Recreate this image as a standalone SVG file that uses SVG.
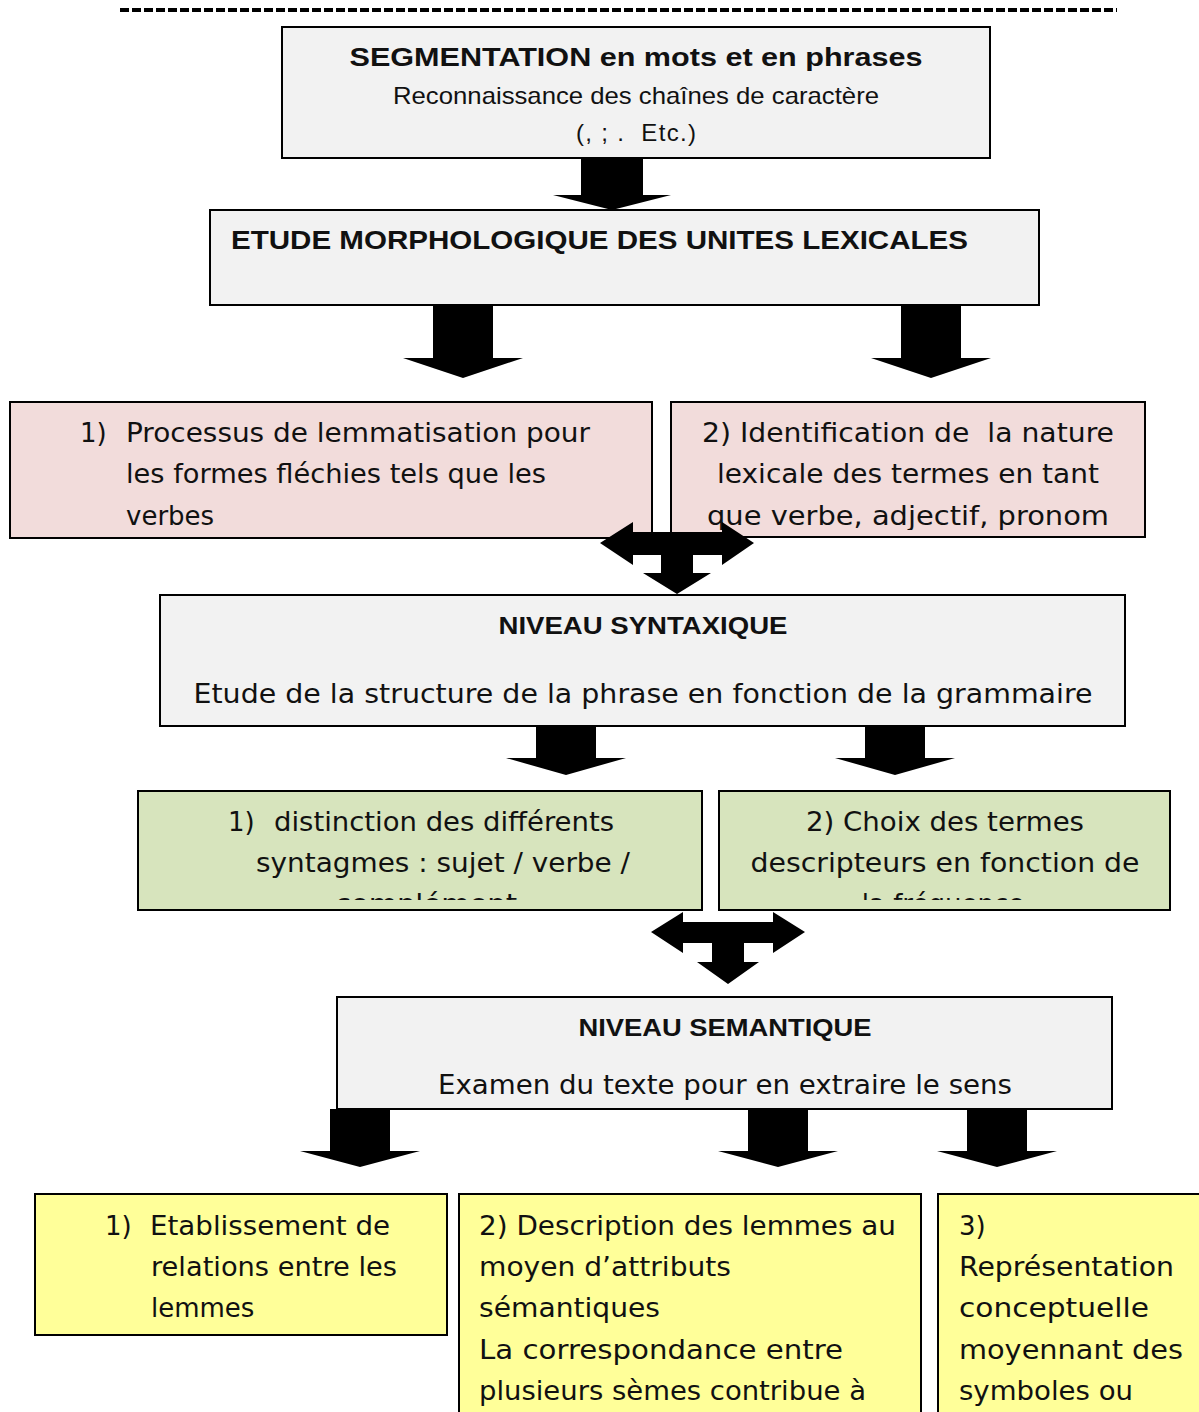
<svg xmlns="http://www.w3.org/2000/svg" width="1199" height="1412" viewBox="0 0 1199 1412">
<style>
.box{stroke:#000;stroke-width:2}
.grey{fill:#f2f2f2}
.pink{fill:#f2dcdb}
.green{fill:#d7e4bd}
.yellow{fill:#ffff99}
.arrow{fill:#000}
.t{font-family:"DejaVu Sans",sans-serif;font-size:26px;fill:#111}
.b{font-family:"Liberation Sans",Arial,sans-serif;font-weight:bold;fill:#111}
.r{font-family:"Liberation Sans",Arial,sans-serif;fill:#111}
.c{text-anchor:middle}
</style>
<defs>
<clipPath id="cp4"><rect x="672" y="403" width="472" height="127"/></clipPath>
<clipPath id="cp6"><rect x="139" y="792" width="562" height="108"/></clipPath>
<clipPath id="cp7"><rect x="720" y="792" width="449" height="108"/></clipPath>
</defs>
<line x1="120" y1="10" x2="1117" y2="10" stroke="#000" stroke-width="4" stroke-dasharray="9,3"/>

<g id="segmentation">
<rect class="box grey" x="282" y="27" width="708" height="131"/>
<text class="b c" x="636" y="66" font-size="26" textLength="573" lengthAdjust="spacingAndGlyphs">SEGMENTATION en mots et en phrases</text>
<text class="r c" x="636" y="104" font-size="24" textLength="486" lengthAdjust="spacingAndGlyphs">Reconnaissance des chaînes de caractère</text>
<text class="r c" x="636" y="141" font-size="24" xml:space="preserve" textLength="120" lengthAdjust="spacing">(, ; .  Etc.)</text>
</g>

<g id="morphologie">
<rect class="box grey" x="210" y="210" width="829" height="95"/>
<text class="b" x="231" y="249" font-size="26" textLength="737" lengthAdjust="spacingAndGlyphs">ETUDE MORPHOLOGIQUE DES UNITES LEXICALES</text>
</g>

<g id="lemmatisation">
<rect class="box pink" x="10" y="402" width="642" height="136"/>
<text class="t" x="80" y="442">1)</text>
<text class="t" x="126" y="442" textLength="464" lengthAdjust="spacingAndGlyphs">Processus de lemmatisation pour</text>
<text class="t" x="126" y="483" textLength="420" lengthAdjust="spacingAndGlyphs">les formes fléchies tels que les</text>
<text class="t" x="126" y="525">verbes</text>
</g>

<g id="identification">
<rect class="box pink" x="671" y="402" width="474" height="135"/>
<g clip-path="url(#cp4)">
<text class="t c" x="908" y="442" textLength="412" lengthAdjust="spacingAndGlyphs" xml:space="preserve">2) Identification de  la nature</text>
<text class="t c" x="908" y="483" textLength="382" lengthAdjust="spacingAndGlyphs">lexicale des termes en tant</text>
<text class="t c" x="908" y="525" textLength="402" lengthAdjust="spacingAndGlyphs">que verbe, adjectif, pronom</text>
</g>
</g>

<g id="syntaxique">
<rect class="box grey" x="160" y="595" width="965" height="131"/>
<text class="b c" x="643" y="634" font-size="24" textLength="289" lengthAdjust="spacingAndGlyphs">NIVEAU SYNTAXIQUE</text>
<text class="t c" x="643" y="703" textLength="899" lengthAdjust="spacingAndGlyphs">Etude de la structure de la phrase en fonction de la grammaire</text>
</g>

<g id="syntagmes">
<rect class="box green" x="138" y="791" width="564" height="119"/>
<g clip-path="url(#cp6)">
<text class="t" x="228" y="831">1)</text>
<text class="t" x="274" y="831" textLength="340" lengthAdjust="spacingAndGlyphs">distinction des différents</text>
<text class="t" x="256" y="872" textLength="374" lengthAdjust="spacingAndGlyphs">syntagmes : sujet / verbe /</text>
<text class="t c" x="426" y="913" textLength="182" lengthAdjust="spacingAndGlyphs">complément</text>
</g>
</g>

<g id="choix">
<rect class="box green" x="719" y="791" width="451" height="119"/>
<g clip-path="url(#cp7)">
<text class="t c" x="945" y="831" textLength="278" lengthAdjust="spacingAndGlyphs">2) Choix des termes</text>
<text class="t c" x="945" y="872" textLength="389" lengthAdjust="spacingAndGlyphs">descripteurs en fonction de</text>
<text class="t c" x="943" y="913">la fréquence</text>
</g>
</g>

<g id="semantique">
<rect class="box grey" x="337" y="997" width="775" height="112"/>
<text class="b c" x="725" y="1036" font-size="24" textLength="293" lengthAdjust="spacingAndGlyphs">NIVEAU SEMANTIQUE</text>
<text class="t c" x="725" y="1094" textLength="574" lengthAdjust="spacingAndGlyphs">Examen du texte pour en extraire le sens</text>
</g>

<g id="relations">
<rect class="box yellow" x="35" y="1194" width="412" height="141"/>
<text class="t" x="105" y="1235">1)</text>
<text class="t" x="150" y="1235" textLength="240" lengthAdjust="spacingAndGlyphs">Etablissement de</text>
<text class="t" x="151" y="1276" textLength="246" lengthAdjust="spacingAndGlyphs">relations entre les</text>
<text class="t" x="151" y="1317">lemmes</text>
</g>

<g id="description">
<rect class="box yellow" x="459" y="1194" width="462" height="230"/>
<text class="t" x="479" y="1235" textLength="417" lengthAdjust="spacingAndGlyphs">2) Description des lemmes au</text>
<text class="t" x="479" y="1276" textLength="252" lengthAdjust="spacingAndGlyphs">moyen d’attributs</text>
<text class="t" x="479" y="1317" textLength="181" lengthAdjust="spacingAndGlyphs">sémantiques</text>
<text class="t" x="479" y="1359" textLength="364" lengthAdjust="spacingAndGlyphs">La correspondance entre</text>
<text class="t" x="479" y="1400" textLength="387" lengthAdjust="spacingAndGlyphs">plusieurs sèmes contribue à</text>
</g>

<g id="representation">
<rect class="box yellow" x="938" y="1194" width="280" height="230"/>
<text class="t" x="959" y="1235">3)</text>
<text class="t" x="959" y="1276" textLength="215" lengthAdjust="spacingAndGlyphs">Représentation</text>
<text class="t" x="959" y="1317" textLength="190" lengthAdjust="spacingAndGlyphs">conceptuelle</text>
<text class="t" x="959" y="1359" textLength="224" lengthAdjust="spacingAndGlyphs">moyennant des</text>
<text class="t" x="959" y="1400" textLength="174" lengthAdjust="spacingAndGlyphs">symboles ou</text>
</g>

<g id="connectors">
<polygon class="arrow" points="581,158 643,158 643,195 671,195 612,210 553,195 581,195"/>
<polygon class="arrow" points="433,306 493,306 493,358 523,358 463,378 403,358 433,358"/>
<polygon class="arrow" points="901,306 961,306 961,358 991,358 931,378 871,358 901,358"/>
<polygon class="arrow" points="600,543 633,522 633,532 722,532 722,522 754,543 722,565 722,555 693,555 693,573 711,573 677,594 643,573 661,573 661,555 633,555 633,565"/>
<polygon class="arrow" points="536,726 596,726 596,758 626,758 566,775 506,758 536,758"/>
<polygon class="arrow" points="865,726 925,726 925,758 955,758 895,775 835,758 865,758"/>
<polygon class="arrow" points="651,932 683,912 683,922 773,922 773,912 805,932 773,953 773,943 744,943 744,962 759,962 728,984 697,962 712,962 712,943 683,943 683,953"/>
<polygon class="arrow" points="330,1109 390,1109 390,1151 420,1151 360,1167 300,1151 330,1151"/>
<polygon class="arrow" points="748,1109 808,1109 808,1151 838,1151 778,1167 718,1151 748,1151"/>
<polygon class="arrow" points="967,1109 1027,1109 1027,1151 1057,1151 997,1167 937,1151 967,1151"/>
</g>
</svg>
